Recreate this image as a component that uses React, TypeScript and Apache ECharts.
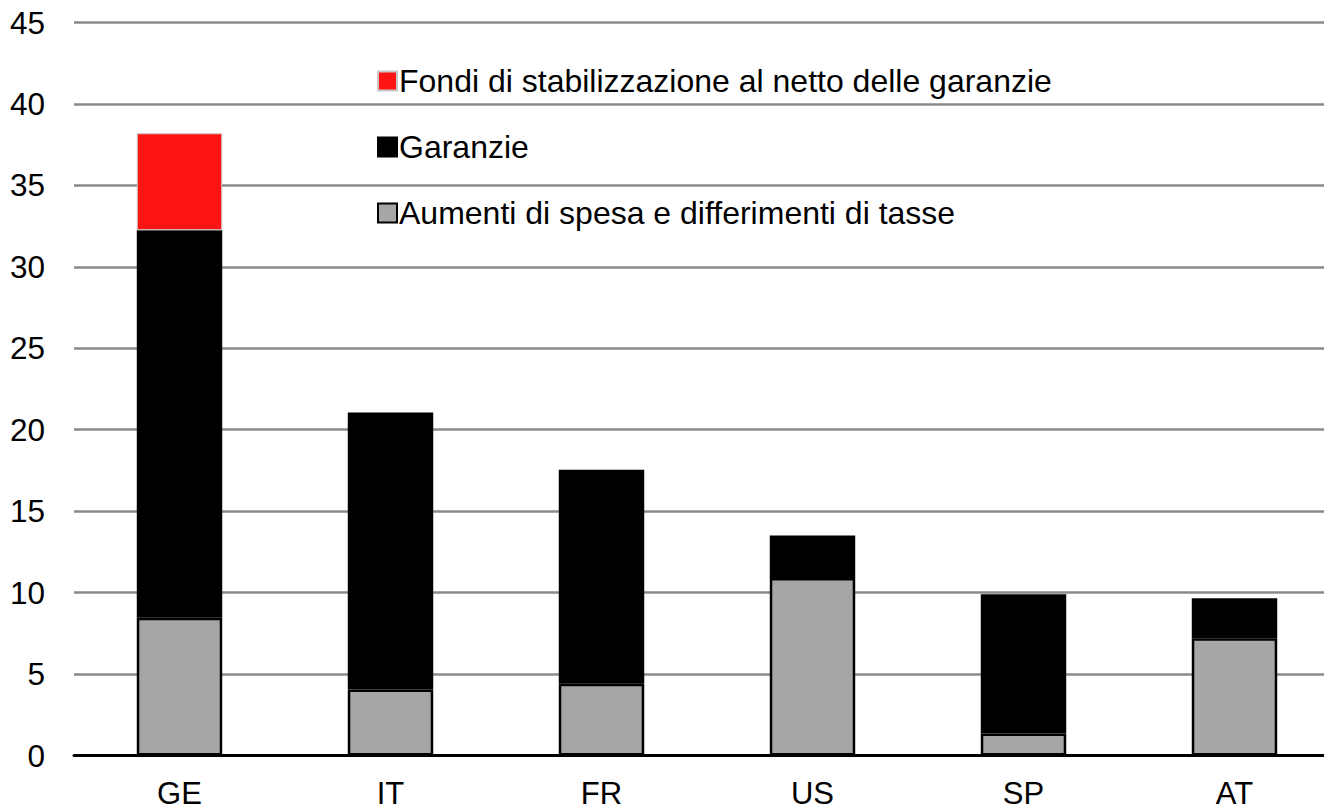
import React, { useEffect, useRef } from "react";
import * as echarts from "echarts";

const categories = ["GE", "IT", "FR", "US", "SP", "AT"];
const spesa = [8.45, 4.05, 4.4, 10.9, 1.35, 7.2];
const garanzie = [23.8, 17.0, 13.15, 2.6, 8.55, 2.45];
const fondi = [5.95, null, null, null, null, null];
const yTicks = { min: 0, max: 45, interval: 5 };

const NAME_FONDI = "Fondi di stabilizzazione al netto delle garanzie";
const NAME_GAR = "Garanzie";
const NAME_SPESA = "Aumenti di spesa e differimenti di tasse";

export default function App() {
  const ref = useRef<HTMLDivElement>(null);
  useEffect(() => {
    if (!ref.current) return;
    const chart = echarts.init(ref.current, undefined, { renderer: "svg" });
    const font = "Liberation Sans, Arial, sans-serif";
    chart.setOption({
      animation: false,
      grid: { left: 74, top: 22.5, width: 1266, bottom: 52, containLabel: false },
      legend: {
        orient: "vertical",
        left: 372,
        top: 60,
        itemGap: 34,
        itemWidth: 19,
        itemHeight: 19,
        icon: "rect",
        data: [NAME_FONDI, NAME_GAR, NAME_SPESA],
        textStyle: { fontFamily: font, fontSize: 32, color: "#000", padding: [0, 0, 0, -3] },
      },
      xAxis: {
        type: "category",
        data: categories,
        axisLine: { lineStyle: { color: "#000", width: 3 } },
        axisTick: { show: false },
        axisLabel: { fontFamily: font, fontSize: 31, lineHeight: 24, color: "#000", margin: 26 },
      },
      yAxis: {
        type: "value",
        min: yTicks.min,
        max: yTicks.max,
        interval: yTicks.interval,
        axisLine: { show: false },
        axisTick: { show: false },
        splitLine: { lineStyle: { color: "#8a8a8a", width: 2.5 } },
        axisLabel: { fontFamily: font, fontSize: 31.5, color: "#000", margin: 29 },
      },
      series: [
        {
          name: NAME_SPESA,
          type: "bar",
          stack: "s",
          barWidth: "40.5%",
          data: spesa,
          itemStyle: { color: "#a6a6a6", borderColor: "#000", borderWidth: 2.5 },
        },
        {
          name: NAME_GAR,
          type: "bar",
          stack: "s",
          data: garanzie,
          itemStyle: { color: "#000", borderColor: "#000", borderWidth: 2 },
        },
        {
          name: NAME_FONDI,
          type: "bar",
          stack: "s",
          data: fondi,
          itemStyle: { color: "#ff1414", borderColor: "#c8c8c8", borderWidth: 1 },
        },
      ],
    });
    return () => chart.dispose();
  }, []);
  return (
    <div style={{ width: 1324, height: 809, position: "absolute", left: 0, top: 0, overflow: "hidden" }}>
      <div ref={ref} style={{ width: 1342, height: 809 }} />
    </div>
  );
}
